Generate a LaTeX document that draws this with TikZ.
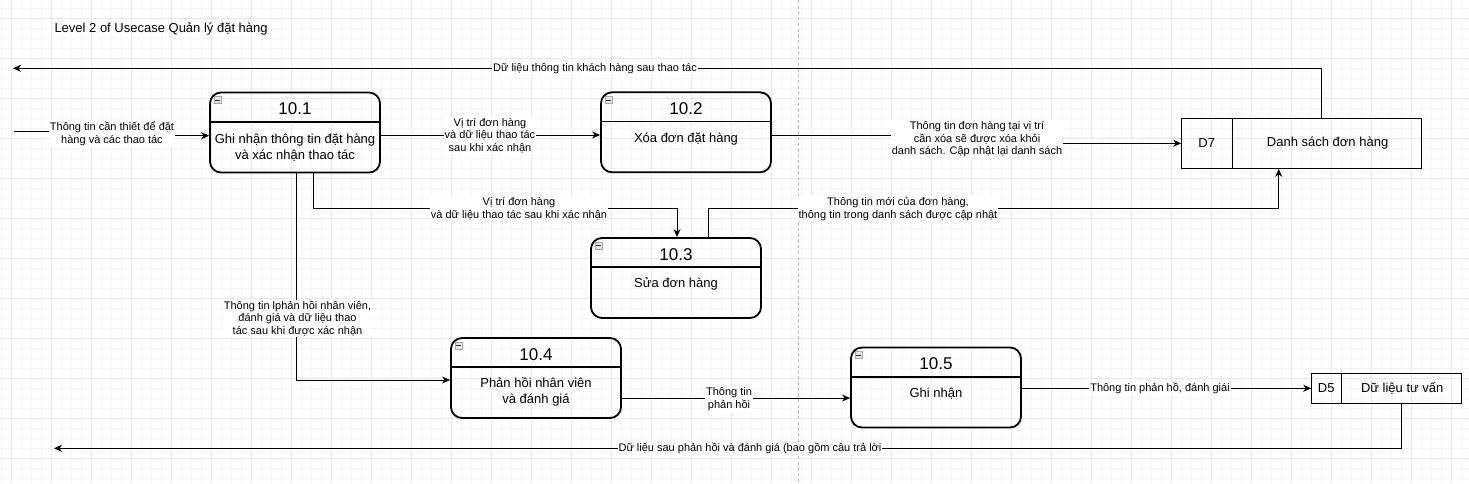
\documentclass[tikz,border=0pt]{standalone}
\usepackage{fontspec}
\setmainfont{Liberation Sans}
\usetikzlibrary{arrows.meta,calc}

\begin{document}
\begin{tikzpicture}[x=1pt, y=-1pt,
    proc/.style={draw, line width=1.8pt, rounded corners=11pt, minimum width=170pt, minimum height=80pt, inner sep=0pt},
    procnum/.style={font=\fontsize{17}{20}\selectfont, inner sep=0pt},
    proctxt/.style={font=\fontsize{13}{16.3}\selectfont, align=center, inner sep=0pt},
    icon/.style={draw=gray!70, fill=gray!20, line width=0.6pt, minimum size=7pt, inner sep=0pt},
    store/.style={draw, line width=1pt, inner sep=0pt},
    storetxt/.style={font=\fontsize{13}{16}\selectfont, inner sep=0pt},
    flow/.style={-{Stealth[length=8pt, width=7pt, inset=2.5pt]}, line width=1pt},
    lbl/.style={fill=white, font=\fontsize{11}{12.7}\selectfont, align=center, inner sep=1pt},
    minor/.style={gray!7, line width=0.6pt},
    major/.style={gray!18, line width=0.8pt}]

    % Canvas
    \fill[white] (0,0) rectangle (1469,483);
    \useasboundingbox (0,0) rectangle (1469,483);

    % Grid
    \foreach \gx in {1.7,11.7,...,1469}
        \draw[minor] (\gx,0) -- (\gx,483);
    \foreach \gy in {8.3,18.3,...,483}
        \draw[minor] (0,\gy) -- (1469,\gy);
    \foreach \gx in {11.7,51.7,...,1469}
        \draw[major] (\gx,0) -- (\gx,483);
    \foreach \gy in {18.3,58.3,...,483}
        \draw[major] (0,\gy) -- (1469,\gy);

    % Page break
    \draw[gray!55, dash pattern=on 3.3pt off 2.4pt, line width=0.8pt] (798.5,0) -- (798.5,483);

    % Title
    \node[anchor=west, font=\fontsize{13}{16}\selectfont, inner sep=0pt] (title) at (54.3,29) {Level 2 of Usecase Quản lý đặt hàng};

    % Processes
    \foreach \nm/\cx/\cy/\ty/\num/\txt in {
        p1/295/132.5/55.8/10.1/{Ghi nhận thông tin đặt hàng\\và xác nhận thao tác},
        p2/686/132.3/47.8/10.2/{Xóa đơn đặt hàng},
        p3/676/278/47.2/10.3/{Sửa đơn hàng},
        p4/536/378/54.4/10.4/{Phản hồi nhân viên\\và đánh giá},
        p5/936/387.5/47.4/10.5/{Ghi nhận}}
    {
        \node[proc] (\nm) at (\cx,\cy) {};
        \draw[line width=1.8pt] ($(\nm.north west)+(0,30)$) -- ($(\nm.north east)+(0,30)$);
        \node[procnum] (\nm-num) at ($(\nm.north)+(0,17.2)$) {\num};
        \node[proctxt] (\nm-txt) at ($(\nm.north)+(0,\ty)$) {\txt};
        \node[icon] (\nm-icon) at ($(\nm.north west)+(8.4,8.6)$) {};
        \draw[gray!40!black, line width=0.7pt] ($(\nm-icon.west)+(1.4,0)$) -- ($(\nm-icon.east)+(-1.4,0)$);
    }

    % Data stores
    \node[store, minimum width=240pt, minimum height=50pt] (d7) at (1301.7,143.3) {};
    \draw[line width=1pt] ($(d7.north west)+(51,0)$) -- ($(d7.south west)+(51,0)$);
    \node[storetxt] (d7-id) at ($(d7.west)+(25.5,0)$) {D7};
    \node[storetxt] (d7-name) at ($(d7.east)+(-94.6,0)$) {Danh sách đơn hàng};

    \node[store, minimum width=150pt, minimum height=30pt] (d5) at (1386.7,388.3) {};
    \draw[line width=1pt] ($(d5.north west)+(30,0)$) -- ($(d5.south west)+(30,0)$);
    \node[storetxt] (d5-id) at ($(d5.west)+(15,0)$) {D5};
    \node[storetxt] (d5-name) at ($(d5.east)+(-60,0)$) {Dữ liệu tư vấn};

    % Data flows
    \coordinate (in1) at (14,131.7);
    \coordinate (out1) at (13,68.3);
    \coordinate (out2) at (54,448.3);

    \draw[flow] (in1) -- (112,131.7) -- (112,135.7) -- ([yshift=-3.2pt]p1.west);
    \draw[flow] ([yshift=-2.5pt]p1.east) -- ([yshift=-2.7pt]p2.west);
    \draw[flow] ([yshift=-2.7pt]p2.east) -- (977,135) -- (977,143.3) -- (d7.west);
    \draw[flow] ([xshift=18pt]p1.south) -- ++(0,35) -| ([xshift=1pt]p3.north);
    \draw[flow] ([xshift=1pt]p1.south) |- ([yshift=-2pt]p4.west);
    \draw[flow] ([xshift=32.4pt]p3.north) -- ++(0,-28.8) -| ([xshift=-23pt]d7.south);
    \draw[flow] ([xshift=20pt]d7.north) |- (out1);
    \draw[flow] ([yshift=-20pt]p4.east) -- ([yshift=-10.5pt]p5.west);
    \draw[flow] ([yshift=-0.8pt]p5.east) -- (d5.west);
    \draw[flow] ([xshift=15pt]d5.south) |- (out2);

    % Flow labels
    \node[lbl] (lin) at (112,133.7) {Thông tin cần thiết để đặt\\hàng và các thao tác};
    \node[lbl] (l12) at (490,135.7) {Vị trí đơn hàng\\và dữ liệu thao tác\\sau khi xác nhận};
    \node[lbl] (l2d7) at (977,139.3) {Thông tin đơn hàng tại vị trí\\cần xóa sẽ được xóa khỏi\\danh sách. Cập nhật lại danh sách};
    \node[lbl] (l13) at (519,209) {Vị trí đơn hàng\\và dữ liệu thao tác sau khi xác nhận};
    \node[lbl] (l14) at (297.5,318.3) {Thông tin lphản hồi nhân viên,\\đánh giá và dữ liệu thao\\tác sau khi được xác nhận};
    \node[lbl] (l3d7) at (898,209) {Thông tin mới của đơn hàng,\\thông tin trong danh sách được cập nhật};
    \node[lbl] (ld7) at (595,68.3) {Dữ liệu thông tin khách hàng sau thao tác};
    \node[lbl] (l45) at (729,399) {Thông tin\\phản hồi};
    \node[lbl] (l5d5) at (1160,388.3) {Thông tin phản hồ, đánh giái};
    \node[lbl] (ld5) at (750,448.3) {Dữ liệu sau phản hồi và đánh giá (bao gồm câu trả lời};

\end{tikzpicture}
\end{document}
